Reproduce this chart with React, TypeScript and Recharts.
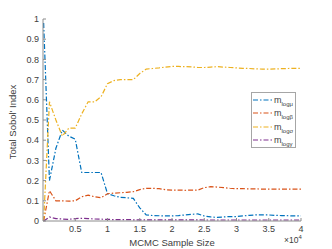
import React from 'react';
import { LineChart, Line, XAxis, YAxis } from 'recharts';

// MCMC sample sizes (x) and total Sobol' indices
const sampleSizes = [
  100, 1000, 2000, 3000, 4000, 5000, 6000, 7000, 8000, 9000, 10000,
  11000, 12000, 13000, 14000, 15000, 16000, 17000, 18000, 19000, 20000,
  21000, 22000, 23000, 24000, 25000, 26000, 27000, 28000, 29000, 30000,
  31000, 32000, 33000, 34000, 35000, 36000, 37000, 38000, 39000, 40000,
];

const muIdx = [
  0.98, 0.2, 0.36, 0.45, 0.42, 0.405, 0.24, 0.24, 0.24, 0.24, 0.135,
  0.125, 0.117, 0.115, 0.112, 0.065, 0.03, 0.027, 0.026, 0.025, 0.025,
  0.027, 0.03, 0.033, 0.035, 0.025, 0.02, 0.018, 0.02, 0.022, 0.022,
  0.025, 0.028, 0.03, 0.03, 0.03, 0.028, 0.027, 0.026, 0.025, 0.025,
];

const betaIdx = [
  0.0, 0.15, 0.1, 0.1, 0.098, 0.1, 0.12, 0.128, 0.12, 0.115, 0.135,
  0.138, 0.14, 0.142, 0.145, 0.155, 0.162, 0.162, 0.16, 0.155, 0.153,
  0.153, 0.152, 0.153, 0.153, 0.165, 0.17, 0.168, 0.165, 0.162, 0.16,
  0.16, 0.159, 0.159, 0.158, 0.158, 0.158, 0.158, 0.158, 0.158, 0.158,
];

const sigmaIdx = [
  0.0, 0.59, 0.5, 0.42, 0.46, 0.46, 0.53, 0.59, 0.59, 0.615, 0.68,
  0.695, 0.7, 0.7, 0.7, 0.73, 0.752, 0.755, 0.758, 0.762, 0.765,
  0.765, 0.764, 0.763, 0.76, 0.76, 0.762, 0.764, 0.762, 0.76, 0.758,
  0.756, 0.755, 0.753, 0.752, 0.752, 0.753, 0.754, 0.755, 0.756, 0.756,
];

const gammaIdx = [
  0.0, 0.02, 0.012, 0.01, 0.008, 0.012, 0.013, 0.012, 0.01, 0.009, 0.008,
  0.007, 0.007, 0.007, 0.006, 0.006, 0.006, 0.006, 0.006, 0.006, 0.006,
  0.006, 0.006, 0.006, 0.006, 0.005, 0.005, 0.005, 0.005, 0.005, 0.005,
  0.005, 0.005, 0.005, 0.005, 0.005, 0.005, 0.005, 0.005, 0.005, 0.005,
];

const xTicks = [5000, 10000, 15000, 20000, 25000, 30000, 35000, 40000];
const yTicks = [0, 0.1, 0.2, 0.3, 0.4, 0.5, 0.6, 0.7, 0.8, 0.9, 1];

const series = [
  { key: 'mu', color: '#0072BD', sub: 'logμ' },
  { key: 'beta', color: '#D95319', sub: 'logβ' },
  { key: 'sigma', color: '#EDB120', sub: 'logσ' },
  { key: 'gamma', color: '#7E2F8E', sub: 'logγ' },
];

const data = sampleSizes.map((n, i) => ({
  n,
  mu: muIdx[i],
  beta: betaIdx[i],
  sigma: sigmaIdx[i],
  gamma: gammaIdx[i],
}));

const font = '"Liberation Sans", Arial, sans-serif';
const ink = '#404040';
const axisGray = '#8c8c8c';
const dash = '5 2 1.5 2';

const App: React.FC = () => {
  return (
    <div style={{ position: 'relative', width: 332, height: 249, fontFamily: font }}>
      <style>{'body{margin:0}'}</style>
      <LineChart width={332} height={249} data={data} margin={{ top: 19, right: 31, left: 0, bottom: 0 }}>
        <XAxis
          dataKey="n"
          type="number"
          domain={[0, 40000]}
          ticks={xTicks}
          tickFormatter={(v: number) => String(v / 10000)}
          height={28}
          stroke={axisGray}
          tickSize={-3}
          tickMargin={8}
          tick={{ fill: ink, fontSize: 9, fontFamily: font }}
        />
        <YAxis
          type="number"
          domain={[0, 1]}
          ticks={yTicks}
          width={43}
          stroke={axisGray}
          tickSize={-3}
          tickMargin={7}
          tick={{ fill: ink, fontSize: 9, fontFamily: font }}
        />
        {series.map(s => (
          <Line
            key={s.key}
            type="linear"
            dataKey={s.key}
            stroke={s.color}
            strokeWidth={1.2}
            strokeDasharray={dash}
            dot={false}
            isAnimationActive={false}
          />
        ))}
      </LineChart>

      {/* axis labels */}
      <div
        style={{
          position: 'absolute', left: 12, top: 122, fontSize: 9.5, color: ink,
          transform: 'translate(-50%, -50%) rotate(-90deg)', whiteSpace: 'nowrap',
        }}
      >
        Total Sobol' Index
      </div>
      <div
        style={{
          position: 'absolute', left: 172, top: 242, fontSize: 9.5, color: ink,
          transform: 'translate(-50%, -50%)', whiteSpace: 'nowrap',
        }}
      >
        MCMC Sample Size
      </div>
      <div style={{ position: 'absolute', left: 284, top: 235, fontSize: 8.5, color: ink, whiteSpace: 'nowrap' }}>
        ×10<sup style={{ fontSize: 6, verticalAlign: 'super', lineHeight: 0 }}>4</sup>
      </div>

      {/* legend */}
      <div
        style={{
          position: 'absolute', left: 251, top: 92, width: 45, height: 56,
          border: '1px solid #a6a6a6', background: '#fff', boxSizing: 'border-box',
        }}
      >
        {series.map((s, i) => (
          <div key={s.key} style={{ position: 'absolute', left: 1, top: 2 + i * 13.3, height: 10, display: 'flex', alignItems: 'center' }}>
            <svg width={19} height={4} style={{ marginRight: 2 }}>
              <line x1={0} y1={2} x2={19} y2={2} stroke={s.color} strokeWidth={1.2} strokeDasharray={dash} />
            </svg>
            <span style={{ fontSize: 9, color: ink, lineHeight: '10px' }}>
              m<sub style={{ fontSize: 6, verticalAlign: 'sub', lineHeight: 0 }}>{s.sub}</sub>
            </span>
          </div>
        ))}
      </div>
    </div>
  );
};

export default App;
